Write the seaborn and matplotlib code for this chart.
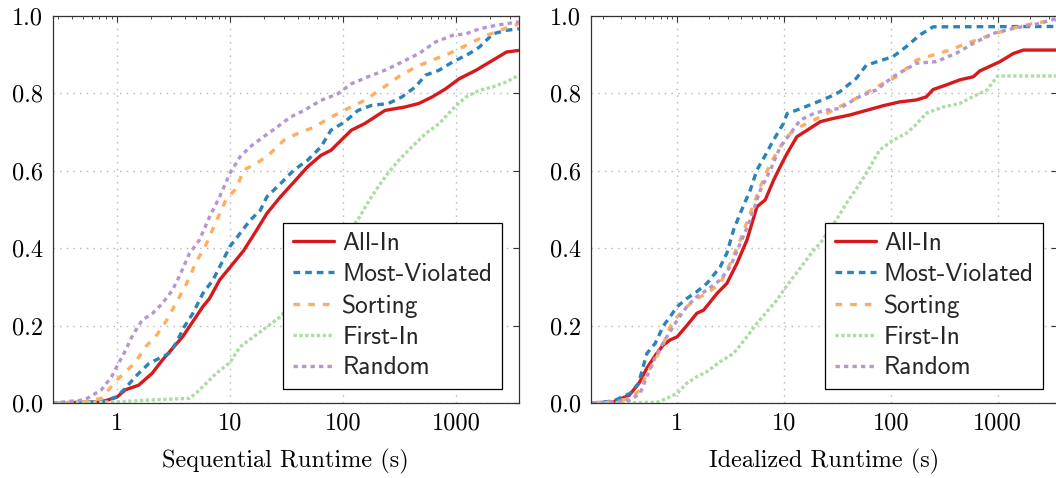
import matplotlib
matplotlib.use("Agg")
import matplotlib.pyplot as plt
from matplotlib.ticker import FixedLocator, FixedFormatter, LogLocator, NullFormatter
import seaborn as sns

# ---- data: fraction of instances solved within a given runtime (s) ----
strategies = ["All-In", "Most-Violated", "Sorting", "First-In", "Random"]

# Sequential runtime
seq_allin_x = [0.27, 0.74, 1.0, 1.19, 1.56, 2.06, 2.53, 3.11, 3.82, 4.70, 5.77, 6.61, 8.13, 10, 13.2,
               17.3, 21.3, 28.1, 36.9, 48.6, 64, 78.5, 96.6, 119, 156, 236, 356, 470, 618, 813, 1072,
               1510, 2128, 2805, 3600]
seq_allin_y = [0, 0.003, 0.015, 0.034, 0.046, 0.077, 0.111, 0.141, 0.171, 0.21, 0.249, 0.27, 0.318, 0.35,
               0.393, 0.447, 0.49, 0.533, 0.571, 0.61, 0.64, 0.653, 0.679, 0.705, 0.722, 0.756, 0.765,
               0.774, 0.791, 0.812, 0.838, 0.86, 0.886, 0.907, 0.911]

seq_mostviol_x = [0.27, 0.73, 1.0, 1.19, 1.46, 1.92, 2.36, 2.90, 3.33, 3.95, 4.70, 5.77, 7.10, 8.71, 10,
                  12.3, 15.1, 18.6, 21.3, 28.1, 36.9, 48.6, 64, 78.5, 103.5, 136, 179, 253, 333, 439,
                  538, 710, 933, 1315, 1618, 2128, 2805, 3600]
seq_mostviol_y = [0, 0.003, 0.016, 0.038, 0.068, 0.102, 0.115, 0.128, 0.154, 0.197, 0.231, 0.283, 0.318,
                  0.369, 0.404, 0.438, 0.472, 0.498, 0.533, 0.567, 0.602, 0.627, 0.662, 0.705, 0.726,
                  0.756, 0.769, 0.774, 0.791, 0.817, 0.847, 0.86, 0.881, 0.903, 0.92, 0.954, 0.963, 0.967]

seq_sorting_x = [0.27, 0.52, 0.73, 1.0, 1.19, 1.46, 1.79, 2.2, 2.71, 3.33, 4.09, 5.02, 6.18, 7.6, 9.33,
                 11.5, 13.2, 17.3, 22.8, 30.1, 39.5, 55.7, 78.7, 111, 156, 220, 311, 439, 618, 871,
                 1230, 1734, 2443, 3600]
seq_sorting_y = [0, 0.003, 0.012, 0.059, 0.08, 0.105, 0.145, 0.171, 0.21, 0.257, 0.305, 0.363, 0.41,
                 0.47, 0.528, 0.555, 0.602, 0.619, 0.645, 0.679, 0.696, 0.713, 0.739, 0.761, 0.782,
                 0.812, 0.843, 0.868, 0.886, 0.903, 0.924, 0.946, 0.963, 0.98]

seq_firstin_x = [0.27, 1.0, 2.06, 4.39, 5.02, 6.18, 7.6, 10, 12.3, 16.2, 21.3, 28.1, 136, 179, 236, 311,
                 409, 538, 710, 1000, 1230, 1618, 2128, 2805, 3600]
seq_firstin_y = [0, 0.003, 0.008, 0.012, 0.025, 0.051, 0.077, 0.104, 0.145, 0.171, 0.197, 0.223, 0.474,
                 0.533, 0.584, 0.627, 0.662, 0.696, 0.722, 0.768, 0.791, 0.808, 0.817, 0.83, 0.847]

seq_random_x = [0.27, 0.52, 0.73, 0.90, 1.0, 1.19, 1.36, 1.67, 2.06, 2.53, 3.11, 3.56, 4.39, 5.38, 6.62,
                8.13, 10, 12.3, 15.1, 19.9, 26.2, 34.4, 45.4, 64, 90.2, 119, 167, 236, 333, 470, 662,
                933, 1230, 1618, 2280, 3600]
seq_random_y = [0, 0.008, 0.034, 0.068, 0.094, 0.135, 0.171, 0.214, 0.231, 0.257, 0.292, 0.326, 0.386,
                0.421, 0.481, 0.533, 0.593, 0.636, 0.662, 0.688, 0.713, 0.739, 0.756, 0.782, 0.799,
                0.825, 0.843, 0.86, 0.881, 0.903, 0.933, 0.95, 0.954, 0.967, 0.976, 0.985]

# Idealized runtime
ide_allin_x = [0.16, 0.251, 0.355, 0.437, 0.52, 0.631, 0.741, 0.859, 1.0, 1.23, 1.53, 1.77, 2.36, 2.92,
               3.63, 4.50, 5.58, 6.68, 8.0, 9.23, 10.7, 13.2, 17.6, 21.9, 28.6, 41, 58.9, 84.3, 121,
               173, 215, 249, 332, 443, 592, 682, 847, 1052, 1403, 1742, 3600]
ide_allin_y = [0, 0.003, 0.02, 0.05, 0.09, 0.125, 0.15, 0.163, 0.171, 0.2, 0.232, 0.24, 0.283, 0.309,
               0.361, 0.421, 0.507, 0.525, 0.576, 0.611, 0.645, 0.688, 0.71, 0.727, 0.735, 0.744,
               0.756, 0.768, 0.778, 0.783, 0.791, 0.81, 0.822, 0.835, 0.843, 0.858, 0.87, 0.882,
               0.903, 0.912, 0.912]

ide_mostviol_x = [0.16, 0.251, 0.363, 0.435, 0.52, 0.622, 0.745, 0.859, 1.0, 1.23, 1.53, 1.90, 2.53,
                  2.92, 3.37, 3.89, 4.83, 5.58, 6.68, 8.0, 9.93, 10.7, 13.2, 19.0, 27.2, 33.2, 47.6,
                  59.0, 105, 140, 187, 249, 3600]
ide_mostviol_y = [0, 0.005, 0.025, 0.051, 0.128, 0.154, 0.2, 0.223, 0.249, 0.27, 0.288, 0.309, 0.352,
                  0.387, 0.447, 0.49, 0.55, 0.602, 0.64, 0.68, 0.723, 0.748, 0.757, 0.774, 0.792,
                  0.804, 0.839, 0.873, 0.895, 0.921, 0.951, 0.972, 0.973]

ide_sorting_x = [0.16, 0.251, 0.363, 0.45, 0.52, 0.622, 0.745, 0.859, 1.0, 1.23, 1.53, 1.90, 2.53,
                 3.14, 3.89, 4.83, 6.0, 7.45, 9.23, 11.5, 14.2, 19.0, 25.3, 33.2, 51.2, 84.7, 113, 174,
                 249, 356, 512, 787, 1211, 2153, 3600]
ide_sorting_y = [0, 0.003, 0.012, 0.034, 0.077, 0.111, 0.154, 0.197, 0.223, 0.249, 0.27, 0.283,
                 0.309, 0.361, 0.421, 0.49, 0.559, 0.619, 0.662, 0.697, 0.714, 0.731, 0.748, 0.766,
                 0.792, 0.826, 0.843, 0.886, 0.899, 0.912, 0.929, 0.947, 0.964, 0.981, 0.99]

ide_firstin_x = [0.16, 0.646, 0.80, 1.0, 1.23, 1.53, 1.90, 2.53, 3.37, 4.50, 5.58, 6.92, 8.59, 9.93,
                 12.3, 15.3, 19.0, 21.9, 30.9, 38.2, 47.4, 58.9, 78.7, 105, 140, 166, 216, 309, 443,
                 590, 789, 1000, 3600]
ide_firstin_y = [0, 0.002, 0.012, 0.025, 0.051, 0.068, 0.081, 0.107, 0.128, 0.171, 0.206, 0.236,
                 0.266, 0.292, 0.326, 0.361, 0.395, 0.413, 0.473, 0.515, 0.553, 0.593, 0.654, 0.679,
                 0.697, 0.715, 0.749, 0.765, 0.774, 0.792, 0.808, 0.845, 0.845]

ide_random_x = [0.16, 0.251, 0.363, 0.45, 0.52, 0.646, 0.80, 1.0, 1.23, 1.53, 1.90, 2.53, 3.14, 3.89,
                4.83, 6.0, 7.45, 9.23, 11.5, 14.2, 19.0, 25.3, 33.2, 51.2, 73.3, 105, 174, 267, 412,
                590, 910, 1400, 2490, 3600]
ide_random_y = [0, 0.003, 0.008, 0.025, 0.068, 0.128, 0.171, 0.214, 0.249, 0.275, 0.292, 0.318,
                0.352, 0.412, 0.473, 0.55, 0.602, 0.662, 0.697, 0.731, 0.748, 0.757, 0.761, 0.792,
                0.809, 0.843, 0.878, 0.882, 0.904, 0.929, 0.955, 0.968, 0.981, 0.994]

x_ticks = [1, 10, 100, 1000]
x_tick_labels = ["1", "10", "100", "1000"]
y_ticks = [0.0, 0.2, 0.4, 0.6, 0.8, 1.0]
y_tick_labels = ["0.0", "0.2", "0.4", "0.6", "0.8", "1.0"]

panels = [
    ("Sequential Runtime (s)", (0.27, 3600), {
        "All-In": (seq_allin_x, seq_allin_y),
        "Most-Violated": (seq_mostviol_x, seq_mostviol_y),
        "Sorting": (seq_sorting_x, seq_sorting_y),
        "First-In": (seq_firstin_x, seq_firstin_y),
        "Random": (seq_random_x, seq_random_y),
    }),
    ("Idealized Runtime (s)", (0.155, 3600), {
        "All-In": (ide_allin_x, ide_allin_y),
        "Most-Violated": (ide_mostviol_x, ide_mostviol_y),
        "Sorting": (ide_sorting_x, ide_sorting_y),
        "First-In": (ide_firstin_x, ide_firstin_y),
        "Random": (ide_random_x, ide_random_y),
    }),
]

# ---- style ----
colors = {
    "All-In": "#d7191c",
    "Most-Violated": "#2b83ba",
    "Sorting": "#fdae61",
    "First-In": "#abdda4",
    "Random": "#b496d2",
}
# dash patterns in units of the line width
line_styles = {
    "All-In": "-",
    "Most-Violated": (0, (2.0, 1.5)),
    "Sorting": (0, (2.0, 2.4)),
    "First-In": (0, (1.0, 0.75)),
    "Random": (0, (1.3, 1.25)),
}
line_width = 2.4

sns.set_style("white")
plt.rcParams["font.family"] = ["cmr10", "DejaVu Serif"]
plt.rcParams["axes.unicode_minus"] = False

serif = ["cmr10", "DejaVu Serif"]
sans = ["cmss10", "DejaVu Sans"]

fig = plt.figure(figsize=(10.56, 4.78), dpi=100)
axes_rects = [
    [52.5 / 1056, 75 / 478, 466.3 / 1056, 387 / 478],
    [590.7 / 1056, 75 / 478, 466.3 / 1056, 387 / 478],
]
legend_anchor = [(0.964, 0.036), (0.971, 0.036)]

for rect, (xlabel, xlim, series), anchor in zip(axes_rects, panels, legend_anchor):
    ax = fig.add_axes(rect)
    ax.set_xscale("log")
    for name in strategies:
        xs, ys = series[name]
        sns.lineplot(x=xs, y=ys, ax=ax, color=colors[name], linewidth=line_width,
                     linestyle=line_styles[name], label=name,
                     estimator=None, sort=False, legend=False)

    ax.set_xlim(*xlim)
    ax.set_ylim(0, 1)

    ax.xaxis.set_major_locator(FixedLocator(x_ticks))
    ax.xaxis.set_major_formatter(FixedFormatter(x_tick_labels))
    ax.xaxis.set_minor_locator(LogLocator(base=10, subs=range(2, 10), numticks=20))
    ax.xaxis.set_minor_formatter(NullFormatter())
    ax.yaxis.set_major_locator(FixedLocator(y_ticks))
    ax.yaxis.set_major_formatter(FixedFormatter(y_tick_labels))

    ax.grid(True, which="major", color="#b4b4b4", linestyle=(0, (1.0, 3.8)), linewidth=1.0)
    ax.set_axisbelow(True)

    ax.tick_params(which="both", direction="in", top=True, right=True, color="#333333")
    ax.tick_params(which="major", length=4.5, width=0.8, pad=7)
    ax.tick_params(which="minor", length=2.5, width=0.6)
    for lab in ax.get_xticklabels() + ax.get_yticklabels():
        lab.set_fontfamily(serif)
        lab.set_fontsize(17.5)
        lab.set_color("black")

    for sp in ax.spines.values():
        sp.set_color("#333333")
        sp.set_linewidth(0.9)
        sp.set_visible(True)

    ax.set_xlabel(xlabel, fontsize=17.5, fontfamily=serif, labelpad=10, color="black")
    ax.set_ylabel("")

    leg = ax.legend(loc="lower right", bbox_to_anchor=anchor, borderaxespad=0,
                    prop={"family": sans, "size": 18.3}, frameon=True, fancybox=False,
                    framealpha=1.0, edgecolor="black", handlelength=1.62,
                    handletextpad=0.32, borderpad=0.38, labelspacing=0.31)
    leg.get_frame().set_linewidth(0.9)

fig.savefig("out.png", dpi=100)
